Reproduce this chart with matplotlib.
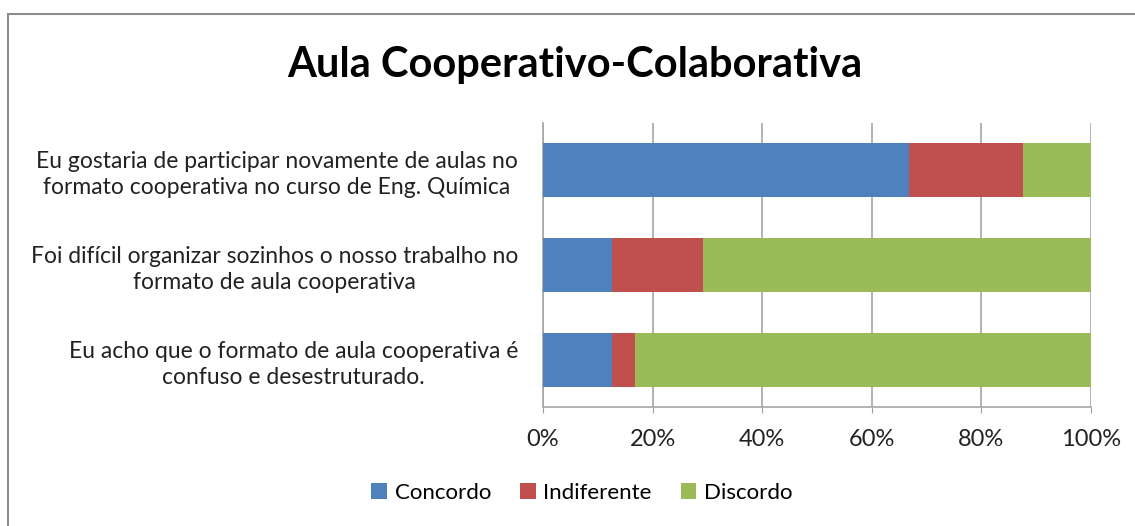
import matplotlib.pyplot as plt
from matplotlib.patches import Rectangle

# data (share of answers, %)
questions = [
    'Eu gostaria de participar novamente de aulas no\nformato cooperativa no curso de Eng. Química',
    'Foi difícil organizar sozinhos o nosso trabalho no\nformato de aula cooperativa',
    'Eu acho que o formato de aula cooperativa é\nconfuso e desestruturado.',
]
concordo = [66.7, 12.5, 12.5]
indiferente = [20.8, 16.7, 4.2]
discordo = [12.5, 70.8, 83.3]
series_names = ['Concordo', 'Indiferente', 'Discordo']
colors = ['#4F81BD', '#C0504D', '#9BBB59']
ticks = [0, 20, 40, 60, 80, 100]

plt.rcParams['font.family'] = ['Lato', 'DejaVu Sans']

fig = plt.figure(figsize=(11.35, 5.26), dpi=100)
W, H = 1135, 526
ax = fig.add_axes([543 / W, 1 - 407 / H, (1091 - 543) / W, (407 - 123) / H])

# chart frame
fig.patches.append(Rectangle((8 / W, -0.05), 1.2, 1 - 14 / H + 0.05,
                             transform=fig.transFigure, fill=False,
                             edgecolor='#8c8c8c', linewidth=1.5))

y = range(len(questions))
left = [0] * len(questions)
for vals, name, c in zip([concordo, indiferente, discordo], series_names, colors):
    ax.barh(y, vals, left=left, height=0.57, color=c, label=name, zorder=3)
    left = [a + b for a, b in zip(left, vals)]

ax.set_xlim(0, 100)
ax.set_ylim(2.5, -0.5)
ax.set_xticks(ticks)
ax.set_xticklabels([f'{t}%' for t in ticks], fontsize=17, color='#222222')
ax.set_yticks(list(y))
ax.set_yticklabels(questions, fontsize=16.5, multialignment='center',
                   color='#222222', linespacing=1.3)
ax.tick_params(axis='y', length=0, pad=18)
ax.tick_params(axis='x', length=4, color='#a0a0a0', pad=12)
ax.grid(axis='x', color='#a6a6a6', linewidth=1.2, zorder=0)

for s in ['top', 'right']:
    ax.spines[s].set_visible(False)
for s in ['left', 'bottom']:
    ax.spines[s].set_color('#a6a6a6')
    ax.spines[s].set_linewidth(1.2)

fig.text(575 / W, 1 - 65 / H, 'Aula Cooperativo-Colaborativa', fontsize=30,
         fontweight='bold', ha='center', va='center')

fig.legend(loc='center', bbox_to_anchor=(582 / W, 1 - 493 / H), ncol=3,
           frameon=False, fontsize=16, handlelength=0.7, handleheight=0.7,
           handletextpad=0.35, columnspacing=1.3)

plt.savefig('out.png', dpi=100)
